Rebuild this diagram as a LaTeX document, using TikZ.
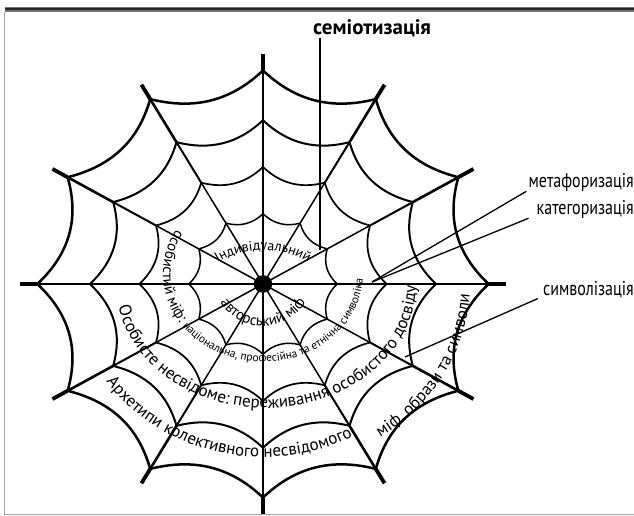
\documentclass[tikz,border=0pt]{standalone}
\usepackage{fontspec}
\setmainfont{PT Sans}
\newfontfamily\vuzkyi[FakeStretch=0.8]{PT Sans}
\usetikzlibrary{decorations.text}

\tikzset{
  vynoska/.style={line width=1.3pt},
  mitka/.style={font=\vuzkyi\fontsize{20}{20}\selectfont, inner sep=0pt},
}

\begin{document}
\begin{tikzpicture}[x=1pt, y=1pt]
  % межі
  \useasboundingbox (-263,-232) rectangle (371,284);
  \draw[black!55, line width=5pt] (-258,274.5) -- (371,274.5);
  \draw[black!85, line width=2pt] (-258,274.5) -- (371,274.5);
  \draw[black!35, line width=1pt] (-258,272) -- (-258,-230) -- (371,-230);

  % павутина
  \begin{scope}[xscale=1.03, yscale=0.975]
    \foreach \a in {0,30,...,330} {
      \draw[line width=1.5pt] (0,0) -- (\a:120);
      \draw[line width=2pt] (\a:120) -- (\a:168);
      \draw[line width=2.6pt] (\a:168) -- (\a:219);
      \draw[line width=3.8pt] (\a:219) -- (\a:236);
    }
    \foreach \rad/\tw in {72/1.5, 120/1.7, 168/2, 219/2.5} {
      \foreach \a in {0,30,...,330} {
        \draw[line width=\tw pt] (\a:\rad) to[bend left=30] (\a+30:\rad);
      }
    }
    \fill (0,0) circle (9);
  \end{scope}

  % написи по колу
  \path[decorate, decoration={text along path, text align=center,
      text={|\fontsize{14}{14}\selectfont|Індивідуальний}}]
    ([shift={(0,-52)}]160:86) arc[start angle=160, end angle=20, radius=86];
  \path[decorate, decoration={text along path, text align=center,
      text={|\fontsize{15}{15}\selectfont|авторський міф}}]
    ([shift={(0,8)}]190:50) arc[start angle=190, end angle=350, radius=50];
  \path[decorate, decoration={text along path,
      text={|\fontsize{15}{15}\selectfont|особистий міф: |\fontsize{11.5}{11.5}\selectfont|національна, професійна та етнічна символіка}}]
    ([shift={(0,10)}]150:100 and 88) arc[start angle=150, end angle=385, x radius=100, y radius=88];
  \path[decorate, decoration={text along path, text align=center,
      text={|\fontsize{17}{17}\selectfont|Особисте несвідоме: переживання особистого досвіду}}]
    ([shift={(3,0)}]178:150 and 124) arc[start angle=178, end angle=372, x radius=150, y radius=124];
  \path[decorate, decoration={text along path, text align=center,
      text={|\fontsize{17}{17}\selectfont|Архетипи колективного несвідомого}}]
    (200:190 and 173) arc[start angle=200, end angle=312, x radius=190, y radius=173];
  \path[decorate, decoration={text along path, text align=center,
      text={|\fontsize{17}{17}\selectfont|міф. образи та символи}}]
    (298:207 and 186) arc[start angle=298, end angle=364, x radius=207, y radius=186];

  % виноски
  \node[font=\bfseries\fontsize{21}{21}\selectfont, inner sep=0pt, anchor=base west] (semio) at (50,249) {семіотизація};
  \node[mitka, anchor=east] (metaf) at (371,102) {метафоризація};
  \node[mitka, anchor=east] (kateg) at (371,75) {категоризація};
  \node[mitka, anchor=east] (symv) at (371,-6) {символізація};
  \coordinate (semiokin) at (57,34);
  \coordinate (metakin) at (109,2);
  \coordinate (symvkin) at (142,-73);
  \draw[vynoska] (semio.south -| semiokin) -- (semiokin);
  \draw[vynoska] ([xshift=-2pt]metaf.south west) -- (metakin);
  \draw[vynoska] ([xshift=-8pt]kateg.south west) -- (metakin);
  \draw[vynoska] ([xshift=-5pt]symv.south west) -- (symvkin);
\end{tikzpicture}
\end{document}
